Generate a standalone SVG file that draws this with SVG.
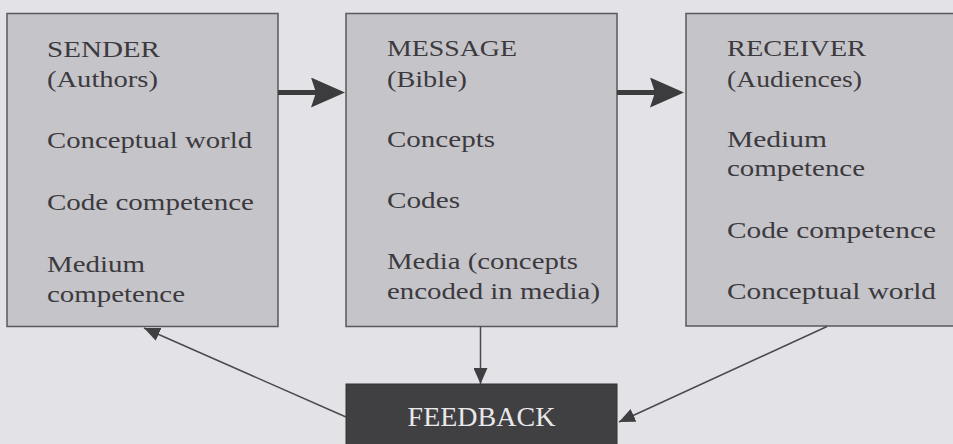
<svg xmlns="http://www.w3.org/2000/svg" width="953" height="444" viewBox="0 0 953 444">
<style>
.bg{fill:#e3e2e7}
.box{fill:#c5c4c9;stroke:#5a595c;stroke-width:1.5}
.fb{fill:#403f42;stroke:#333;stroke-width:1}
.t{font-family:"Liberation Serif","Times New Roman",serif;font-size:24px;fill:#3c3a3e}
.ft{font-family:"Liberation Serif","Times New Roman",serif;font-size:28px;fill:#e8e8ea;text-anchor:middle}
.thick{stroke:#3c3b3e;stroke-width:5;fill:none}
.thin{stroke:#4a494c;stroke-width:1.5;fill:none}
</style>
<defs>
<marker id="big" viewBox="0 0 34 30" refX="8" refY="15" markerWidth="34" markerHeight="30" markerUnits="userSpaceOnUse" orient="auto">
<path d="M0,0 L34,15 L0,30 L5,15 Z" fill="#3c3b3e"/>
</marker>
<marker id="small" viewBox="0 0 16 14" refX="16" refY="7" markerWidth="16" markerHeight="14" markerUnits="userSpaceOnUse" orient="auto">
<path d="M0,0 L16,7 L0,14 Z" fill="#3f3e41"/>
</marker>
</defs>
<rect class="bg" x="0" y="0" width="953" height="444"/>
<g id="sender">
<rect class="box" x="7" y="13.5" width="271" height="313"/>
<text class="t" x="47" y="57" textLength="113" lengthAdjust="spacingAndGlyphs">SENDER</text>
<text class="t" x="47" y="87" textLength="111" lengthAdjust="spacingAndGlyphs">(Authors)</text>
<text class="t" x="47" y="148" textLength="205" lengthAdjust="spacingAndGlyphs">Conceptual world</text>
<text class="t" x="47" y="210" textLength="207" lengthAdjust="spacingAndGlyphs">Code competence</text>
<text class="t" x="47" y="272" textLength="98" lengthAdjust="spacingAndGlyphs">Medium</text>
<text class="t" x="47" y="302" textLength="138" lengthAdjust="spacingAndGlyphs">competence</text>
</g>
<g id="message">
<rect class="box" x="346" y="13.5" width="271" height="313"/>
<text class="t" x="387" y="56" textLength="130" lengthAdjust="spacingAndGlyphs">MESSAGE</text>
<text class="t" x="387" y="87" textLength="80" lengthAdjust="spacingAndGlyphs">(Bible)</text>
<text class="t" x="387" y="147" textLength="108" lengthAdjust="spacingAndGlyphs">Concepts</text>
<text class="t" x="387" y="208" textLength="73" lengthAdjust="spacingAndGlyphs">Codes</text>
<text class="t" x="387" y="269" textLength="191" lengthAdjust="spacingAndGlyphs">Media (concepts</text>
<text class="t" x="387" y="299" textLength="213" lengthAdjust="spacingAndGlyphs">encoded in media)</text>
</g>
<g id="receiver">
<rect class="box" x="686" y="13.5" width="280" height="312.5"/>
<text class="t" x="727" y="56" textLength="139" lengthAdjust="spacingAndGlyphs">RECEIVER</text>
<text class="t" x="727" y="87" textLength="135" lengthAdjust="spacingAndGlyphs">(Audiences)</text>
<text class="t" x="727" y="147" textLength="100" lengthAdjust="spacingAndGlyphs">Medium</text>
<text class="t" x="727" y="176" textLength="138" lengthAdjust="spacingAndGlyphs">competence</text>
<text class="t" x="727" y="238" textLength="209" lengthAdjust="spacingAndGlyphs">Code competence</text>
<text class="t" x="727" y="299" textLength="209" lengthAdjust="spacingAndGlyphs">Conceptual world</text>
</g>
<g id="feedback">
<rect class="fb" x="346" y="384" width="271" height="70"/>
<text class="ft" x="481.5" y="426">FEEDBACK</text>
</g>
<g id="connectors">
<line class="thick" x1="278" y1="92.5" x2="319" y2="92.5" marker-end="url(#big)"/>
<line class="thick" x1="617" y1="92.5" x2="658" y2="92.5" marker-end="url(#big)"/>
<line class="thin" x1="480.5" y1="326.5" x2="480.5" y2="384" marker-end="url(#small)"/>
<line class="thin" x1="346" y1="417" x2="144" y2="328" marker-end="url(#small)"/>
<line class="thin" x1="827" y1="326.5" x2="619" y2="422" marker-end="url(#small)"/>
</g>
</svg>
